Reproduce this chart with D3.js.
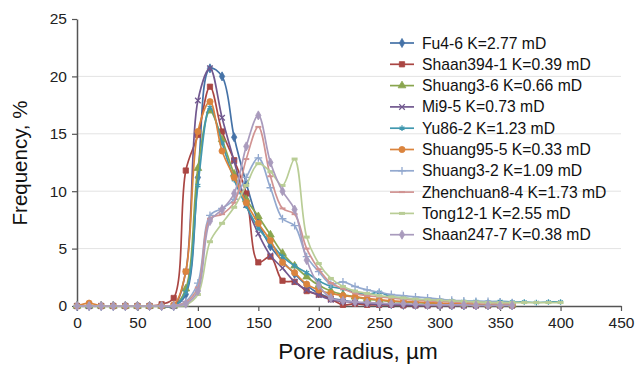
<!DOCTYPE html>
<html>
<head>
<meta charset="utf-8">
<script src="https://cdn.jsdelivr.net/npm/d3@7"></script>
<style>
  body { margin: 0; background: #fff; }
  svg { font-family: "Liberation Sans", Arial, sans-serif; }
</style>
</head>
<body>
<svg width="636" height="374"></svg>
<script>
// Pore radius in µm, one point every 10
var radius = d3.range(0, 401, 10);

var names = ['Fu4-6 K=2.77 mD', 'Shaan394-1 K=0.39 mD', 'Shuang3-6 K=0.66 mD', 'Mi9-5 K=0.73 mD',
  'Yu86-2 K=1.23 mD', 'Shuang95-5 K=0.33 mD', 'Shuang3-2 K=1.09 mD', 'Zhenchuan8-4 K=1.73 mD',
  'Tong12-1 K=2.55 mD', 'Shaan247-7 K=0.38 mD'];

var fu46 = [0,0,0,0,0,0,0,0, 0,1.0,11.2,20.7,20.0,14.7,10.7,7.3,5.2,3.9,2.8,1.8,1.1,0.7,0.5,0.35,0.25,0.2,0.15,0.1,0.1,0.1,0.05,0.05,0.05,0.05,0.05,0.05,0.05];
var shaan394 = [0,0,0,0,0,0,0,0.15, 0.7,11.8,14.9,19.1,15.2,12.7,9.8,3.8,4.3,2.2,2.1,1.3,1.0,0.6,0.1,0.2,0.1,0.1,0.1,0.05,0.05,0.05,0.05,0.05,0.05,0.05,0.05,0.05,0.05];
var shuang36 = [0,0,0,0,0,0,0,0, 0,1.5,12.0,17.0,14.5,11.5,9.3,7.8,6.2,4.6,3.5,2.55,1.8,1.3,1.0,0.8,0.6,0.5,0.4,0.35,0.3,0.25,0.2,0.2,0.15,0.15,0.1,0.1,0.1];
var mi95 = [0,0,0,0,0,0,0,0, 0,3.0,17.9,20.7,16.4,12.6,8.8,6.3,4.4,3.3,2.1,1.4,0.95,0.55,0.4,0.3,0.2,0.15,0.1,0.1,0.05,0.05,0.05,0.05,0.05,0.05,0.05,0.05,0.05];
var yu862 = [0,0,0,0,0,0,0,0, 0,1.2,10.5,17.3,14.2,11.0,8.7,6.8,5.5,4.3,3.5,2.9,2.2,1.7,1.5,1.2,1.0,1.2,0.8,0.7,0.6,0.5,0.5,0.45,0.4,0.4,0.35,0.4,0.35,0.35,0.3,0.35,0.35];
var shuang955 = [0,0.25,0,0,0,0,0,0, 0.1,3.0,15.2,17.8,13.5,11.2,9.0,7.2,5.7,3.8,2.9,1.9,1.4,1.1,0.9,0.8,0.65,0.55,0.45,0.4,0.35,0.3,0.25,0.2,0.2,0.15,0.1,0.1,0.1];
var shuang32 = [0,0,0,0,0,0,0,0, 0,0.4,2.0,7.9,8.5,9.3,11.2,12.9,10.3,7.6,7.0,4.3,3.0,1.9,2.1,1.7,1.4,1.2,1.0,0.9,0.8,0.7,0.6,0.5,0.45,0.4,0.4,0.35,0.3];
var zhen84 = [0,0,0,0,0,0,0,0, 0,0.3,1.6,7.6,8.0,9.0,12.8,15.6,11.3,8.5,8.0,5.0,3.2,2.0,1.5,1.1,0.9,0.8,0.7,0.6,0.5,0.45,0.4,0.35,0.3,0.3,0.25,0.2,0.2];
var tong121 = [0,0,0,0,0,0,0,0, 0,0.1,1.0,5.6,7.2,8.6,10.5,12.4,11.7,10.5,12.8,6.0,3.7,2.4,1.7,1.3,1.1,0.9,0.8,0.7,0.6,0.55,0.5,0.45,0.4,0.35,0.3,0.3,0.3,0.3,0.3,0.3,0.3];
var shaan247 = [0,0,0,0,0,0,0,0, 0,0.2,1.3,7.4,8.4,9.8,13.9,16.6,12.5,10.0,8.4,4.0,1.8,0.7,0.45,0.35,0.3,0.25,0.2,0.2,0.15,0.1,0.1,0.1,0.1,0.05,0.05,0.05,0.05];

var allSeries = [fu46, shaan394, shuang36, mi95, yu862, shuang955, shuang32, zhen84, tong121, shaan247];
var colors = ['#4572A7', '#AA4643', '#89A54E', '#71588F', '#4198AF', '#DB843D', '#93A9CF', '#D19392', '#B9CD96', '#A99BBD'];
var markers = ['diamond', 'square', 'triangle', 'times', 'asterisk', 'circle', 'plus', 'dash', 'bar', 'diamond'];

var xTicks = d3.range(0, 451, 50);
var yTicks = [0, 5, 10, 15, 20, 25];

var svg = d3.select("svg");
var margin = { top: 19, left: 77 };
var width = 544, height = 287;

var x = d3.scaleLinear().domain([0, 450]).range([0, width]);
var y = d3.scaleLinear().domain([0, 25]).range([height, 0]);

var g = svg.append("g")
    .attr("transform", "translate(" + margin.left + "," + margin.top + ")");

// gridlines
g.selectAll(".grid")
    .data([5, 10, 15, 20])
  .enter().append("line")
    .attr("x1", 0).attr("x2", width)
    .attr("y1", d => y(d)).attr("y2", d => y(d))
    .attr("stroke", "#e3e3e3").attr("stroke-width", 1);

// axes
var xAxis = g.append("g")
    .attr("transform", "translate(0," + height + ")")
    .call(d3.axisBottom(x).tickValues(xTicks).tickSize(5).tickPadding(6).tickSizeOuter(0));
var yAxis = g.append("g")
    .call(d3.axisLeft(y).tickValues(yTicks).tickSize(5).tickPadding(5).tickSizeOuter(0));

[xAxis, yAxis].forEach(function(a) {
    a.select(".domain").attr("stroke", "#555").attr("stroke-width", 1.5);
    a.selectAll(".tick line").attr("stroke", "#555").attr("stroke-width", 1.2);
    a.selectAll("text").attr("fill", "#222").style("font-size", "15.5px")
        .style("font-family", "'Liberation Sans', Arial, sans-serif");
});

function drawMarker(sel, type, color) {
    var filled = { diamond: d3.symbolDiamond, square: d3.symbolSquare, triangle: d3.symbolTriangle, circle: d3.symbolCircle };
    var stroked = { times: d3.symbolTimes, asterisk: d3.symbolAsterisk, plus: d3.symbolPlus };
    if (filled[type]) {
        var size = { diamond: 24, square: 28, triangle: 26, circle: 30 }[type];
        sel.append("path").attr("d", d3.symbol().type(filled[type]).size(size)())
            .attr("fill", color).attr("stroke", color).attr("stroke-width", 0.8);
    } else if (stroked[type]) {
        sel.append("path").attr("d", d3.symbol().type(stroked[type]).size(22)())
            .attr("fill", "none").attr("stroke", color).attr("stroke-width", 1.3);
    } else if (type === "dash") {
        sel.append("rect").attr("x", -3).attr("y", -1).attr("width", 6).attr("height", 2).attr("fill", color);
    } else {
        sel.append("rect").attr("x", -3).attr("y", -1.5).attr("width", 6).attr("height", 3).attr("fill", color);
    }
}

var line = d3.line()
    .x((d, i) => x(radius[i]))
    .y(d => y(d))
    .curve(d3.curveCatmullRom.alpha(0.5));

allSeries.forEach(function(vals, k) {
    var s = g.append("g");
    s.append("path")
        .datum(vals)
        .attr("fill", "none")
        .attr("stroke", colors[k])
        .attr("stroke-width", 1.7)
        .attr("d", line);
    s.selectAll(".pt")
        .data(vals)
      .enter().append("g")
        .attr("transform", (d, i) => "translate(" + x(radius[i]) + "," + y(d) + ")")
        .each(function() { drawMarker(d3.select(this), markers[k], colors[k]); });
});

// legend
var legend = svg.append("g").attr("transform", "translate(390,43)");
names.forEach(function(n, k) {
    var row = legend.append("g").attr("transform", "translate(0," + (k * 21.3) + ")");
    row.append("line").attr("x1", 0).attr("x2", 24).attr("stroke", colors[k]).attr("stroke-width", 1.7);
    var m = row.append("g").attr("transform", "translate(12,0)");
    drawMarker(m, markers[k], colors[k]);
    row.append("text").attr("x", 32).attr("dy", "0.35em")
        .style("font-size", "15.7px").attr("fill", "#111").text(n);
});

// axis titles
svg.append("text")
    .attr("x", 358).attr("y", 359)
    .attr("text-anchor", "middle")
    .style("font-size", "22.5px").attr("fill", "#111")
    .text("Pore radius, µm");

svg.append("text")
    .attr("transform", "translate(27,163) rotate(-90)")
    .attr("text-anchor", "middle")
    .style("font-size", "20.5px").attr("fill", "#111")
    .text("Frequency, %");
</script>
</body>
</html>
